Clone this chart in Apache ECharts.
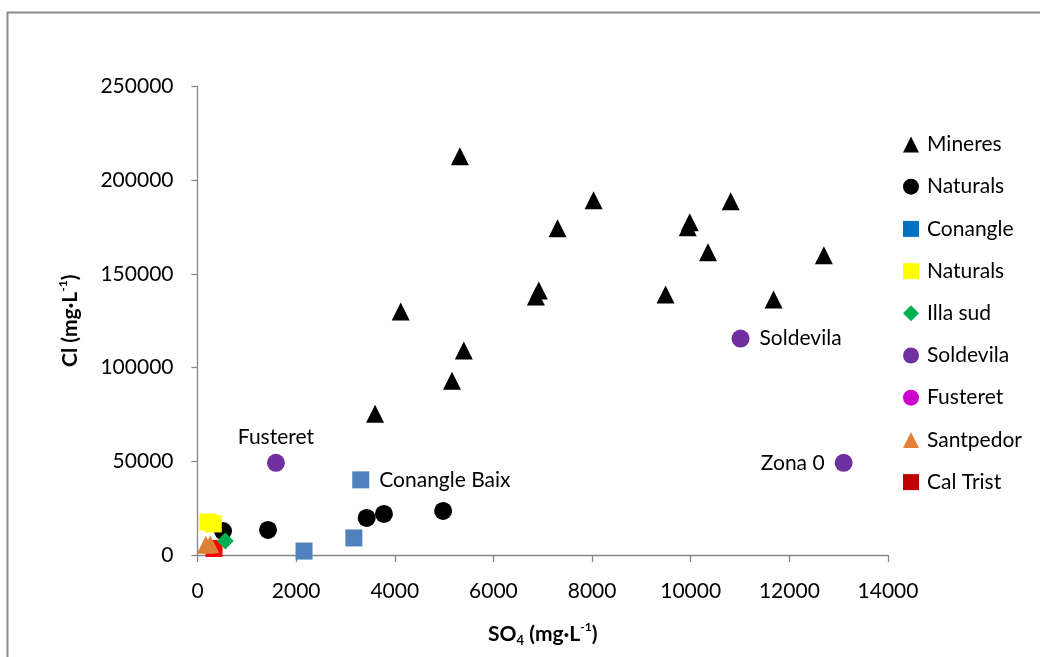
<!DOCTYPE html>
<html>
<head>
<meta charset="utf-8">
<script src="https://cdn.jsdelivr.net/npm/echarts@6/dist/echarts.min.js"></script>
<style>
  html, body { margin: 0; padding: 0; background: #fff; }
  #chart { width: 1040px; height: 657px; }
</style>
</head>
<body>
<div id="chart"></div>
<script>
// SO4 (x) vs Cl (y), mg/L
const mineres = [
  [5320, 212800], [8030, 189300], [7300, 174300], [9980, 177500], [9940, 174900],
  [10810, 188800], [10350, 161500], [12700, 159900], [9490, 139000], [11680, 136400],
  [6920, 141200], [6860, 138000], [4120, 129900], [5400, 109100], [5160, 93000],
  [3600, 75400]
];
const naturalsDark = [[517, 12800], [1430, 13400], [3430, 19800], [3780, 21900], [4980, 23500]];
const conangle = [[2160, 2100], [3170, 9100], [3310, 40100]];
const conangleTags = ['', '', 'Conangle Baix'];
const naturalsYellow = [[210, 17600], [320, 16600]];
const illaSud = [[564, 7500]];
const soldevila = [[11010, 115500], [13100, 49200], [1590, 49200]];
const soldevilaTags = ['Soldevila', 'Zona 0', 'Fusteret'];
const fusteret = [];
const santpedor = [[170, 5500], [260, 5800]];
const calTrist = [[335, 3500]];

const xTicks = { min: 0, max: 14000, step: 2000 };
const yTicks = { min: 0, max: 250000, step: 50000 };

const FONT = 'Lato, "Open Sans", sans-serif';

function tagged(points, tags, positions) {
  return points.map((p, i) => {
    const item = { value: p };
    if (tags[i]) {
      item.name = tags[i];
      item.label = { show: true, position: positions[i], distance: positions[i] === 'top' ? 6 : 10,
                     formatter: tags[i], color: '#000', fontSize: 21, fontFamily: FONT };
    }
    return item;
  });
}

const chart = echarts.init(document.getElementById('chart'));

const legendItems = [
  { name: 'Mineres', icon: 'triangle', itemStyle: { color: '#000' } },
  { name: 'Naturals', icon: 'circle', itemStyle: { color: '#000' } },
  { name: 'Conangle', icon: 'rect', itemStyle: { color: '#0070C0' } },
  { name: 'Naturals ', icon: 'rect', itemStyle: { color: '#FFFF00' } },
  { name: 'Illa sud', icon: 'diamond', itemStyle: { color: '#00B050' } },
  { name: 'Soldevila', icon: 'circle', itemStyle: { color: '#7030A0' } },
  { name: 'Fusteret', icon: 'circle', itemStyle: { color: '#CC00CC' } },
  { name: 'Santpedor', icon: 'triangle', itemStyle: { color: '#E2803A' } },
  { name: 'Cal Trist', icon: 'rect', itemStyle: { color: '#C00000' } }
];

const sup = { fontSize: 12, fontWeight: 'bold', fontFamily: FONT, color: '#000', verticalAlign: 'top', lineHeight: 12 };
const sub = { fontSize: 13, fontWeight: 'bold', fontFamily: FONT, color: '#000', verticalAlign: 'bottom', lineHeight: 12 };
const main = { fontSize: 21, fontWeight: 'bold', fontFamily: FONT, color: '#000', lineHeight: 26 };

const plain = v => String(v);

function dot(color) {
  return { color: color, opacity: 1 };
}

chart.setOption({
  animation: false,
  backgroundColor: '#fff',
  graphic: [{
    type: 'rect', left: 5, top: 10, z: -10,
    shape: { width: 1100, height: 700 },
    style: { fill: 'none', stroke: '#8a8a8a', lineWidth: 2 }
  }],
  grid: { left: 197.5, right: 152, top: 86.5, bottom: 102, containLabel: false },
  legend: {
    orient: 'vertical', left: 903, top: 134, padding: 0,
    itemWidth: 16, itemHeight: 16, itemGap: 21.2,
    data: legendItems,
    formatter: n => n.trim(),
    textStyle: { fontSize: 21, fontFamily: FONT, color: '#000', padding: [0, 0, 0, 3] },
    selectedMode: false
  },
  xAxis: {
    type: 'value', min: xTicks.min, max: xTicks.max, interval: xTicks.step,
    name: '{m|SO}{sb|4}{m| (mg·L}{sp|-1}{m|)}',
    nameLocation: 'middle', nameGap: 66,
    nameTextStyle: { rich: { m: main, sb: sub, sp: sup } },
    axisLine: { lineStyle: { color: '#868686', width: 1.3 } },
    axisTick: { show: true, length: 7, lineStyle: { color: '#868686', width: 1.3 } },
    axisLabel: { fontSize: 21, fontFamily: FONT, color: '#000', margin: 26, formatter: plain },
    splitLine: { show: false }
  },
  yAxis: {
    type: 'value', min: yTicks.min, max: yTicks.max, interval: yTicks.step,
    name: '{m|Cl (mg·L}{sp|-1}{m|)}',
    nameLocation: 'middle', nameGap: 114,
    nameTextStyle: { rich: { m: main, sp: sup } },
    axisLine: { show: true, lineStyle: { color: '#868686', width: 1.3 } },
    axisTick: { show: true, length: 6, lineStyle: { color: '#868686', width: 1.3 } },
    axisLabel: { fontSize: 21, fontFamily: FONT, color: '#000', margin: 24, formatter: plain },
    splitLine: { show: false }
  },
  series: [
    { name: 'Cal Trist', type: 'scatter', z: 1, symbol: 'rect', symbolSize: 17,
      itemStyle: dot('#FF0000'), data: calTrist },
    { name: 'Mineres', type: 'scatter', symbol: 'triangle', symbolSize: [18, 18],
      itemStyle: dot('#000'), data: mineres },
    { name: 'Naturals', type: 'scatter', symbol: 'circle', symbolSize: 18,
      itemStyle: dot('#000'), data: naturalsDark },
    { name: 'Conangle', type: 'scatter', symbol: 'rect', symbolSize: 17,
      itemStyle: dot('#4F81BD'), data: tagged(conangle, conangleTags, ['', '', 'right']) },
    { name: 'Naturals ', type: 'scatter', symbol: 'rect', symbolSize: 17,
      itemStyle: dot('#FFFF00'), data: naturalsYellow },
    { name: 'Illa sud', type: 'scatter', symbol: 'diamond', symbolSize: 17,
      itemStyle: dot('#00B050'), data: illaSud },
    { name: 'Soldevila', type: 'scatter', symbol: 'circle', symbolSize: 18,
      itemStyle: dot('#7030A0'), data: tagged(soldevila, soldevilaTags, ['right', 'left', 'top']) },
    { name: 'Fusteret', type: 'scatter', symbol: 'circle', symbolSize: 18,
      itemStyle: dot('#CC00CC'), data: fusteret },
    { name: 'Santpedor', type: 'scatter', symbol: 'triangle', symbolSize: [18, 18],
      itemStyle: dot('#DD8139'), data: santpedor }
  ]
});
</script>
</body>
</html>
